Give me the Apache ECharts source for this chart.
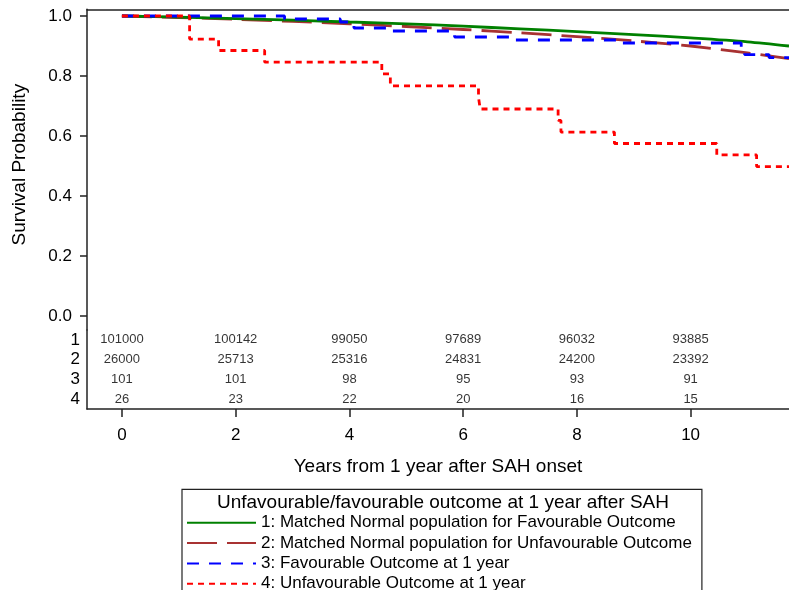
<!DOCTYPE html>
<html>
<head>
<meta charset="utf-8">
<script src="https://cdn.jsdelivr.net/npm/echarts@6/dist/echarts.min.js"></script>
<style>
html,body{margin:0;padding:0;background:#fff;}
#chart{width:789px;height:590px;}
</style>
</head>
<body>
<div id="chart"></div>
<script>
// ---- data ----
var seriesNames = [
  '1: Matched Normal population for Favourable Outcome',
  '2: Matched Normal population for Unfavourable Outcome',
  '3: Favourable Outcome at 1 year',
  '4: Unfavourable Outcome at 1 year'
];
var legendTitle = 'Unfavourable/favourable outcome at 1 year after SAH';
var xTitle = 'Years from 1 year after SAH onset';
var yTitle = 'Survival Probability';

var xTicks = [0, 2, 4, 6, 8, 10];
var yTicks = [0, 0.2, 0.4, 0.6, 0.8, 1.0];
var rowLabels = ['4', '3', '2', '1'];

// group 1 (smooth)
var g1Time = [0, 1, 2, 3, 4, 5, 6, 7, 8, 9, 10, 11, 11.73];
var g1Surv = [1.0, 0.996, 0.991, 0.986, 0.980, 0.974, 0.966, 0.957, 0.948, 0.938, 0.927, 0.914, 0.900];
// group 2 (smooth)
var g2Time = [0, 1, 2, 3, 4, 5, 6, 7, 8, 9, 10, 11, 11.73];
var g2Surv = [1.0, 0.995, 0.989, 0.982, 0.974, 0.965, 0.955, 0.944, 0.931, 0.917, 0.900, 0.877, 0.858];
// group 3 (step)
var g3Time = [0, 2.86, 3.84, 4.08, 4.65, 5.85, 6.89, 8.77, 10.89, 10.95, 11.38, 11.73];
var g3Surv = [1.0, 0.990, 0.980, 0.960, 0.950, 0.930, 0.920, 0.910, 0.890, 0.871, 0.861, 0.861];
// group 4 (step)
var g4Time = [0, 1.19, 1.70, 2.51, 4.57, 4.72, 6.27, 6.30, 7.67, 7.72, 8.66, 10.46, 11.16, 11.73];
var g4Surv = [1.0, 0.923, 0.885, 0.846, 0.807, 0.767, 0.729, 0.690, 0.652, 0.613, 0.575, 0.537, 0.498, 0.498];

// numbers at risk
var atRiskTimes = [0, 2, 4, 6, 8, 10];
var atRisk1 = [101000, 100142, 99050, 97689, 96032, 93885];
var atRisk2 = [26000, 25713, 25316, 24831, 24200, 23392];
var atRisk3 = [101, 101, 98, 95, 93, 91];
var atRisk4 = [26, 23, 22, 20, 16, 15];

// ---- build ----
function pairs(t, s) { return t.map(function (v, i) { return [v, s[i]]; }); }
var tableData = [];
[[atRisk1, '1'], [atRisk2, '2'], [atRisk3, '3'], [atRisk4, '4']].forEach(function (r) {
  r[0].forEach(function (v, i) { tableData.push([atRiskTimes[i], r[1], v]); });
});

var FONT = "'Liberation Sans', Arial, sans-serif";
var XMIN = -0.614, XMAX = 11.73;
var axisLineStyle = { color: '#222', width: 1.5 };

var chart = echarts.init(document.getElementById('chart'), null, { renderer: 'canvas' });
chart.setOption({
  animation: false,
  backgroundColor: '#fff',
  textStyle: { fontFamily: FONT },
  title: {
    text: legendTitle,
    left: 443, top: 493, textAlign: 'center', padding: 0,
    textStyle: { fontFamily: FONT, fontSize: 19, fontWeight: 'normal', color: '#000' }
  },
  legend: {
    data: seriesNames,
    orient: 'vertical',
    left: 182, top: 489.3, height: 140,
    padding: [25, 10, 12, 4],
    borderColor: '#222', borderWidth: 1.2,
    itemWidth: 69, itemHeight: 12, itemGap: 3.3,
    itemStyle: { opacity: 0 },
    textStyle: { fontFamily: FONT, fontSize: 17, color: '#000' },
    selectedMode: false
  },
  grid: [
    { left: 87, top: 9.3, width: 710, height: 320.7 },
    { left: 87, top: 330, width: 710, height: 79 }
  ],
  xAxis: [
    {
      gridIndex: 0, type: 'value', position: 'top', min: XMIN, max: XMAX,
      axisLine: { show: true, onZero: false, lineStyle: axisLineStyle },
      axisTick: { show: false }, axisLabel: { show: false }, splitLine: { show: false }
    },
    {
      gridIndex: 1, type: 'value', position: 'bottom', min: XMIN, max: XMAX,
      axisLine: { show: true, onZero: false, lineStyle: axisLineStyle },
      axisTick: { show: true, inside: false, length: 8, customValues: xTicks, lineStyle: { color: '#222', width: 1.5 } },
      axisLabel: { show: true, customValues: xTicks, margin: 18, fontSize: 17, color: '#000', fontFamily: FONT },
      splitLine: { show: false },
      name: xTitle, nameLocation: 'middle', nameGap: 48,
      nameTextStyle: { fontSize: 19, color: '#000', fontFamily: FONT }
    }
  ],
  yAxis: [
    {
      gridIndex: 0, type: 'value', min: -0.0467, max: 1.0223,
      axisLine: { show: true, onZero: false, lineStyle: axisLineStyle },
      axisTick: { show: true, inside: false, length: 7, customValues: yTicks, lineStyle: { color: '#222', width: 1.5 } },
      axisLabel: {
        show: true, customValues: yTicks, margin: 15, fontSize: 17, color: '#000', fontFamily: FONT,
        formatter: function (v) { return Number(v).toFixed(1); }
      },
      splitLine: { show: false },
      name: yTitle, nameLocation: 'middle', nameGap: 58,
      nameTextStyle: { fontSize: 19, color: '#000', fontFamily: FONT, padding: [0, 0, 0, 10] }
    },
    {
      gridIndex: 1, type: 'category', data: rowLabels, boundaryGap: true,
      axisLine: { show: true, onZero: false, lineStyle: axisLineStyle },
      axisTick: { show: false },
      axisLabel: { show: true, interval: 0, margin: 7, fontSize: 17, color: '#000', fontFamily: FONT },
      splitLine: { show: false }
    }
  ],
  series: [
    {
      name: seriesNames[0], type: 'line', xAxisIndex: 0, yAxisIndex: 0,
      data: pairs(g1Time, g1Surv), smooth: 0.3, symbol: 'none', z: 4,
      lineStyle: { color: '#008000', width: 2.8, type: 'solid' }, itemStyle: { color: '#008000' }
    },
    {
      name: seriesNames[1], type: 'line', xAxisIndex: 0, yAxisIndex: 0,
      data: pairs(g2Time, g2Surv), smooth: 0.3, symbol: 'none', z: 3,
      lineStyle: { color: '#a83232', width: 2.8, type: [30, 10] }, itemStyle: { color: '#a83232' }
    },
    {
      name: seriesNames[2], type: 'line', xAxisIndex: 0, yAxisIndex: 0,
      data: pairs(g3Time, g3Surv), step: 'end', symbol: 'none', z: 5,
      lineStyle: { color: '#0000ff', width: 2.8, type: [12, 10] }, itemStyle: { color: '#0000ff' }
    },
    {
      name: seriesNames[3], type: 'line', xAxisIndex: 0, yAxisIndex: 0,
      data: pairs(g4Time, g4Surv), step: 'end', symbol: 'none', z: 6,
      lineStyle: { color: '#ff0000', width: 2.8, type: [6, 5] }, itemStyle: { color: '#ff0000' }
    },
    {
      name: 'atRisk', type: 'scatter', xAxisIndex: 1, yAxisIndex: 1,
      data: tableData, symbolSize: 1, itemStyle: { color: 'rgba(0,0,0,0)' },
      label: {
        show: true, position: 'inside', color: '#000', fontSize: 13, fontFamily: FONT,
        formatter: function (p) { return String(p.data[2]); }
      },
      silent: true
    }
  ]
});
</script>
</body>
</html>
